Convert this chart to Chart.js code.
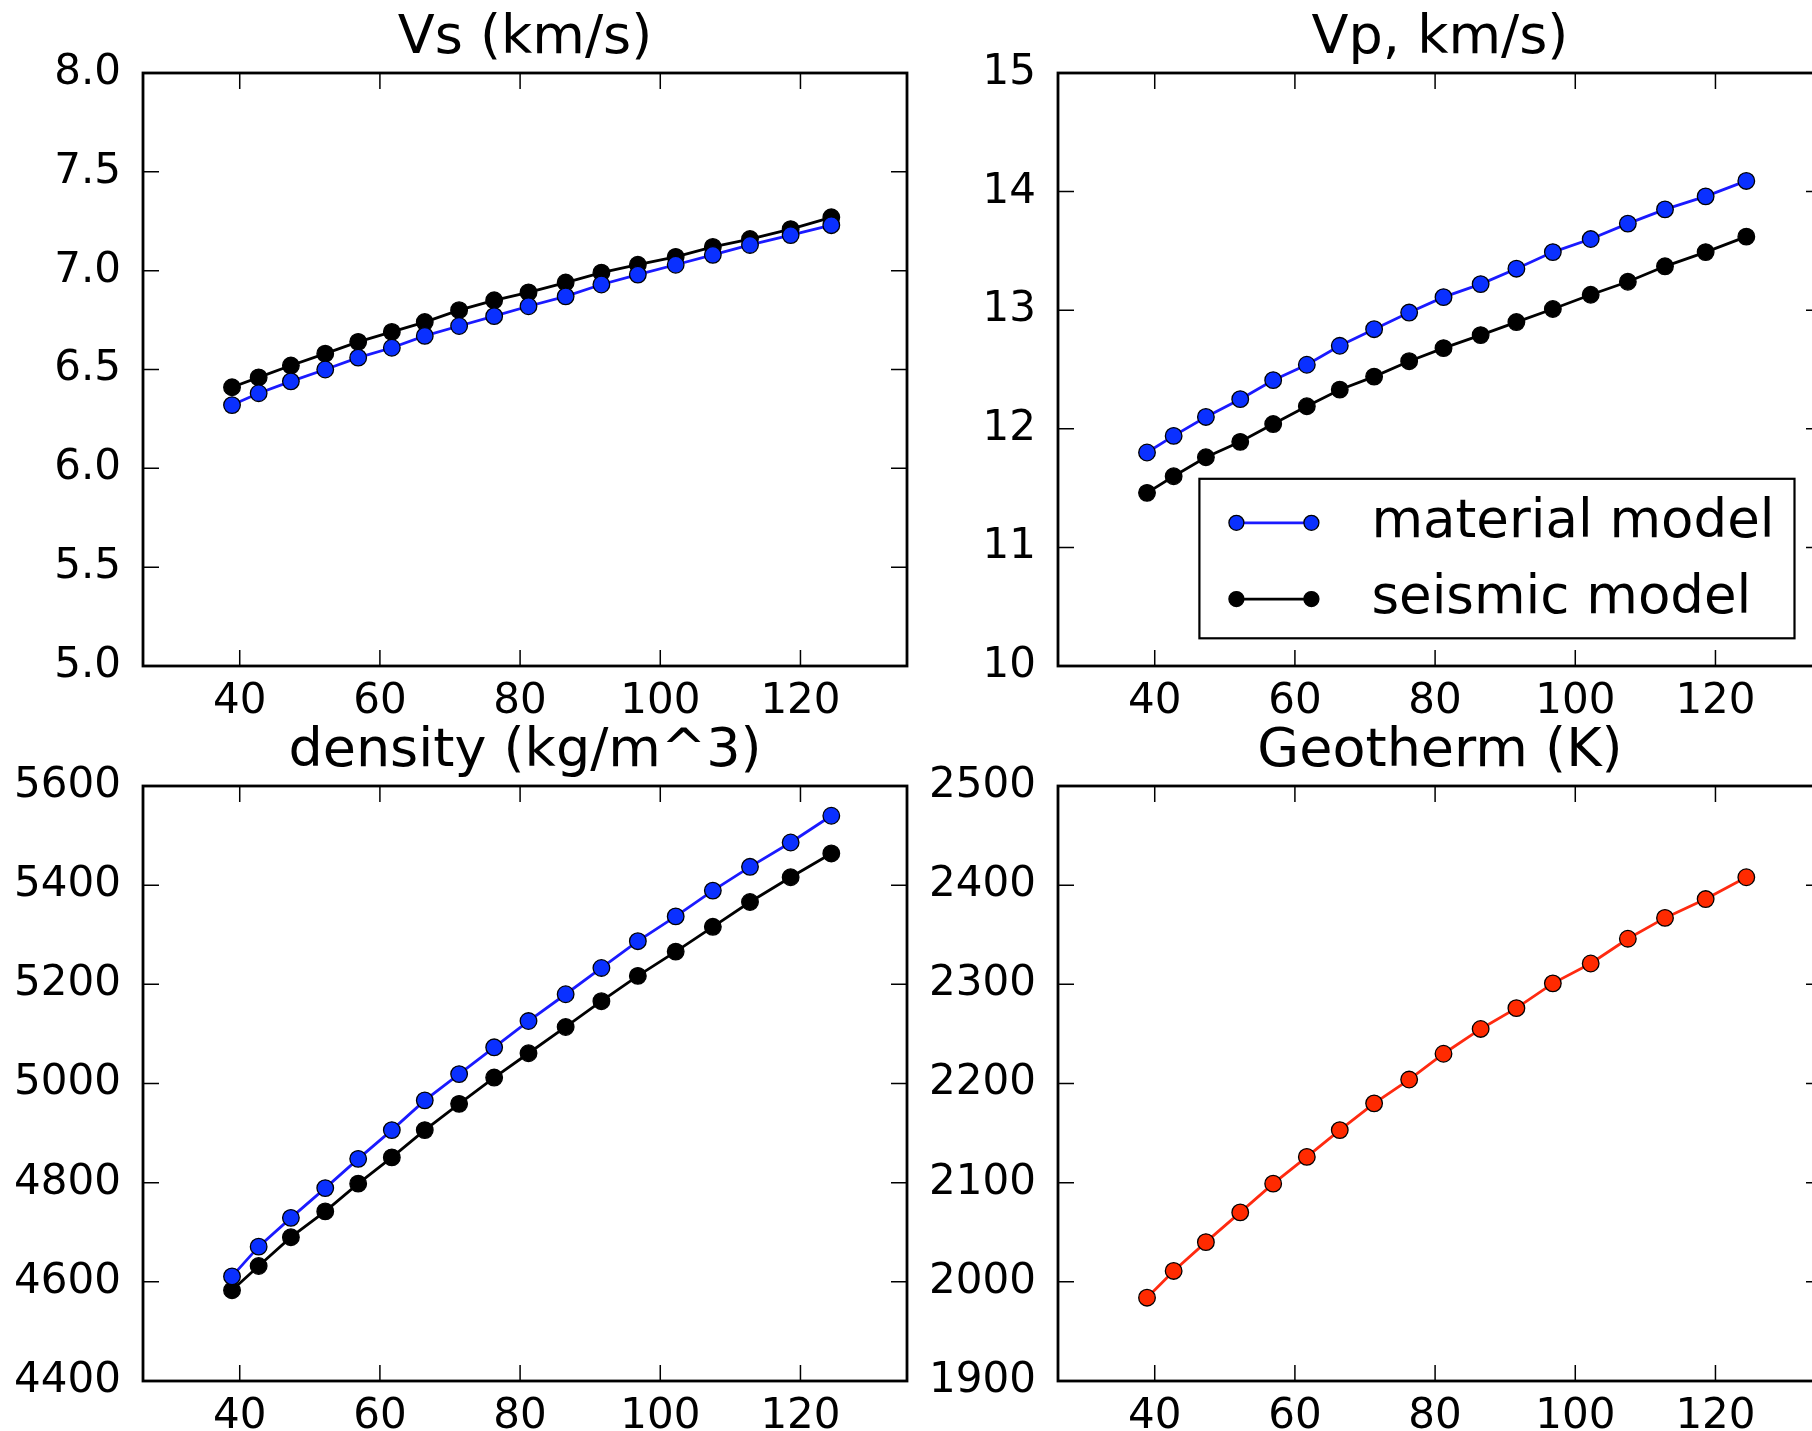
<!DOCTYPE html>
<html>
<head>
<meta charset="utf-8">
<script src="https://cdn.jsdelivr.net/npm/chart.js@4.4.1/dist/chart.umd.min.js"></script>
<style>
  html, body { margin: 0; padding: 0; background: #fff; }
  #fig { position: relative; width: 1812px; height: 1431px; overflow: hidden; background: #fff; }
  #fig canvas { position: absolute; }
</style>
</head>
<body>
<div id="fig">
  <canvas id="vs" width="931" height="730" style="left:0px;top:0px;width:931px;height:730px"></canvas>
  <canvas id="vp" width="931" height="730" style="left:915px;top:0px;width:931px;height:730px"></canvas>
  <canvas id="rho" width="931" height="732" style="left:0px;top:713px;width:931px;height:732px"></canvas>
  <canvas id="temp" width="931" height="732" style="left:915px;top:713px;width:931px;height:732px"></canvas>
</div>
<script>
// depth (km) of each sample
const depth = [38.9, 42.7, 47.3, 52.2, 56.9, 61.7, 66.4, 71.3, 76.3, 81.2, 86.5, 91.6, 96.8, 102.2, 107.5, 112.8, 118.6, 124.4];

const vsMaterial = [6.32, 6.38, 6.44, 6.50, 6.56, 6.61, 6.67, 6.72, 6.77, 6.82, 6.87, 6.93, 6.98, 7.03, 7.08, 7.13, 7.18, 7.23];
const vsSeismic  = [6.41, 6.46, 6.52, 6.58, 6.64, 6.69, 6.74, 6.80, 6.85, 6.89, 6.94, 6.99, 7.03, 7.07, 7.12, 7.16, 7.21, 7.27];

const vpMaterial = [11.80, 11.94, 12.10, 12.25, 12.41, 12.54, 12.70, 12.84, 12.98, 13.11, 13.22, 13.35, 13.49, 13.60, 13.73, 13.85, 13.96, 14.09];
const vpSeismic  = [11.46, 11.60, 11.76, 11.89, 12.04, 12.19, 12.33, 12.44, 12.57, 12.68, 12.79, 12.90, 13.01, 13.13, 13.24, 13.37, 13.49, 13.62];

const rhoMaterial = [4611, 4671, 4729, 4789, 4848, 4906, 4966, 5019, 5073, 5126, 5180, 5233, 5287, 5337, 5389, 5437, 5486, 5540];
const rhoSeismic  = [4583, 4632, 4690, 4742, 4798, 4851, 4906, 4959, 5012, 5061, 5114, 5166, 5217, 5266, 5316, 5366, 5416, 5464];

const geotherm = [1984, 2011, 2040, 2070, 2099, 2126, 2153, 2180, 2204, 2230, 2255, 2276, 2301, 2321, 2346, 2367, 2386, 2408];

const xTicks = [40, 60, 80, 100, 120];
const vsTicks = [5.0, 5.5, 6.0, 6.5, 7.0, 7.5, 8.0];
const vpTicks = [10, 11, 12, 13, 14, 15];
const rhoTicks = [4400, 4600, 4800, 5000, 5200, 5400, 5600];
const tempTicks = [1900, 2000, 2100, 2200, 2300, 2400, 2500];

const labelMaterial = 'material model';
const labelSeismic = 'seismic model';

Chart.defaults.font.family = '"DejaVu Sans", sans-serif';
Chart.defaults.color = '#000';
Chart.defaults.animation = false;

const TICK = 16;

// matplotlib style box with inward ticks on all four sides
const frame = {
  id: 'frame',
  afterDraw(chart) {
    const { ctx, chartArea: a, scales: { x, y } } = chart;
    ctx.save();
    ctx.strokeStyle = '#000';
    ctx.lineWidth = 1.5;
    ctx.beginPath();
    x.ticks.forEach(t => {
      const px = x.getPixelForValue(t.value);
      ctx.moveTo(px, a.bottom); ctx.lineTo(px, a.bottom - TICK);
      ctx.moveTo(px, a.top); ctx.lineTo(px, a.top + TICK);
    });
    y.ticks.forEach(t => {
      const py = y.getPixelForValue(t.value);
      ctx.moveTo(a.left, py); ctx.lineTo(a.left + TICK, py);
      ctx.moveTo(a.right, py); ctx.lineTo(a.right - TICK, py);
    });
    ctx.stroke();
    ctx.lineWidth = 2.8;
    ctx.strokeRect(a.left, a.top, a.right - a.left, a.bottom - a.top);
    ctx.restore();
  }
};

// legend box in the lower right corner of the plot
const boxLegend = {
  id: 'boxLegend',
  afterDraw(chart) {
    const { ctx, chartArea: a } = chart;
    const items = chart.data.datasets;
    ctx.save();
    ctx.font = '53px "DejaVu Sans"';
    const tw = Math.max(...items.map(d => ctx.measureText(d.label).width));
    const w = 172 + tw + 20, h = 159.5;
    const x0 = a.right - 27.5 - w, y0 = a.bottom - 27.7 - h;
    ctx.fillStyle = '#fff';
    ctx.fillRect(x0, y0, w, h);
    ctx.strokeStyle = '#000';
    ctx.lineWidth = 2.2;
    ctx.strokeRect(x0, y0, w, h);
    items.forEach((d, i) => {
      const yy = y0 + 44 + i * 76.3;
      ctx.strokeStyle = d.borderColor;
      ctx.lineWidth = d.borderWidth;
      ctx.beginPath();
      ctx.moveTo(x0 + 37, yy); ctx.lineTo(x0 + 112, yy);
      ctx.stroke();
      [x0 + 37, x0 + 112].forEach(px => {
        ctx.beginPath();
        ctx.arc(px, yy, 7.5, 0, Math.PI * 2);
        ctx.fillStyle = d.pointBackgroundColor;
        ctx.fill();
        ctx.lineWidth = 1.3;
        ctx.strokeStyle = '#000';
        ctx.stroke();
      });
      ctx.fillStyle = '#000';
      ctx.textBaseline = 'middle';
      ctx.textAlign = 'left';
      ctx.fillText(d.label, x0 + 172, yy);
    });
    ctx.restore();
  }
};

function series(label, ys, line, fill) {
  return {
    label: label,
    data: depth.map((d, i) => ({ x: d, y: ys[i] })),
    borderColor: line,
    borderWidth: 2.8,
    pointBackgroundColor: fill,
    pointBorderColor: '#000',
    pointBorderWidth: 1.3,
    pointRadius: 8.3,
    pointStyle: 'circle',
    tension: 0,
    fill: false
  };
}

function panel(id, title, datasets, yTicks, yMin, yMax, fmt, extra) {
  return new Chart(document.getElementById(id), {
    type: 'line',
    data: { datasets: datasets },
    options: {
      responsive: false,
      animation: false,
      layout: { padding: { left: 0, right: 24, top: 0, bottom: 0 } },
      plugins: {
        legend: { display: false },
        tooltip: { enabled: false },
        title: {
          display: true,
          fullSize: false,
          text: title,
          color: '#000',
          font: { size: 54, weight: 'normal', lineHeight: 1.2 },
          padding: { top: 7, bottom: 1.2 }
        }
      },
      scales: {
        x: {
          type: 'linear',
          min: 26.2,
          max: 135.2,
          grid: { display: false },
          border: { display: false },
          afterBuildTicks: s => { s.ticks = xTicks.map(v => ({ value: v })); },
          afterFit: s => { s.height = 64; },
          ticks: { font: { size: 42 }, padding: 3, maxRotation: 0, callback: v => String(v) }
        },
        y: {
          type: 'linear',
          min: yMin,
          max: yMax,
          grid: { display: false },
          border: { display: false },
          afterBuildTicks: s => { s.ticks = yTicks.map(v => ({ value: v })); },
          afterFit: s => { s.width = 143; },
          ticks: { font: { size: 42 }, padding: 14, callback: fmt }
        }
      }
    },
    plugins: extra ? [frame, extra] : [frame]
  });
}

const BLUE_LINE = '#1a1aff';
const BLUE_DOT = '#0a30ff';

panel('vs', 'Vs (km/s)', [
  series(labelMaterial, vsMaterial, BLUE_LINE, BLUE_DOT),
  series(labelSeismic, vsSeismic, '#000', '#000')
], vsTicks, 5, 8, v => Number(v).toFixed(1));

panel('vp', 'Vp, km/s)', [
  series(labelMaterial, vpMaterial, BLUE_LINE, BLUE_DOT),
  series(labelSeismic, vpSeismic, '#000', '#000')
], vpTicks, 10, 15, v => String(v), boxLegend);

panel('rho', 'density (kg/m^3)', [
  series(labelMaterial, rhoMaterial, BLUE_LINE, BLUE_DOT),
  series(labelSeismic, rhoSeismic, '#000', '#000')
], rhoTicks, 4400, 5600, v => String(v));

panel('temp', 'Geotherm (K)', [
  series('geotherm', geotherm, '#ff2a10', '#ff2a00')
], tempTicks, 1900, 2500, v => String(v));
</script>
</body>
</html>
